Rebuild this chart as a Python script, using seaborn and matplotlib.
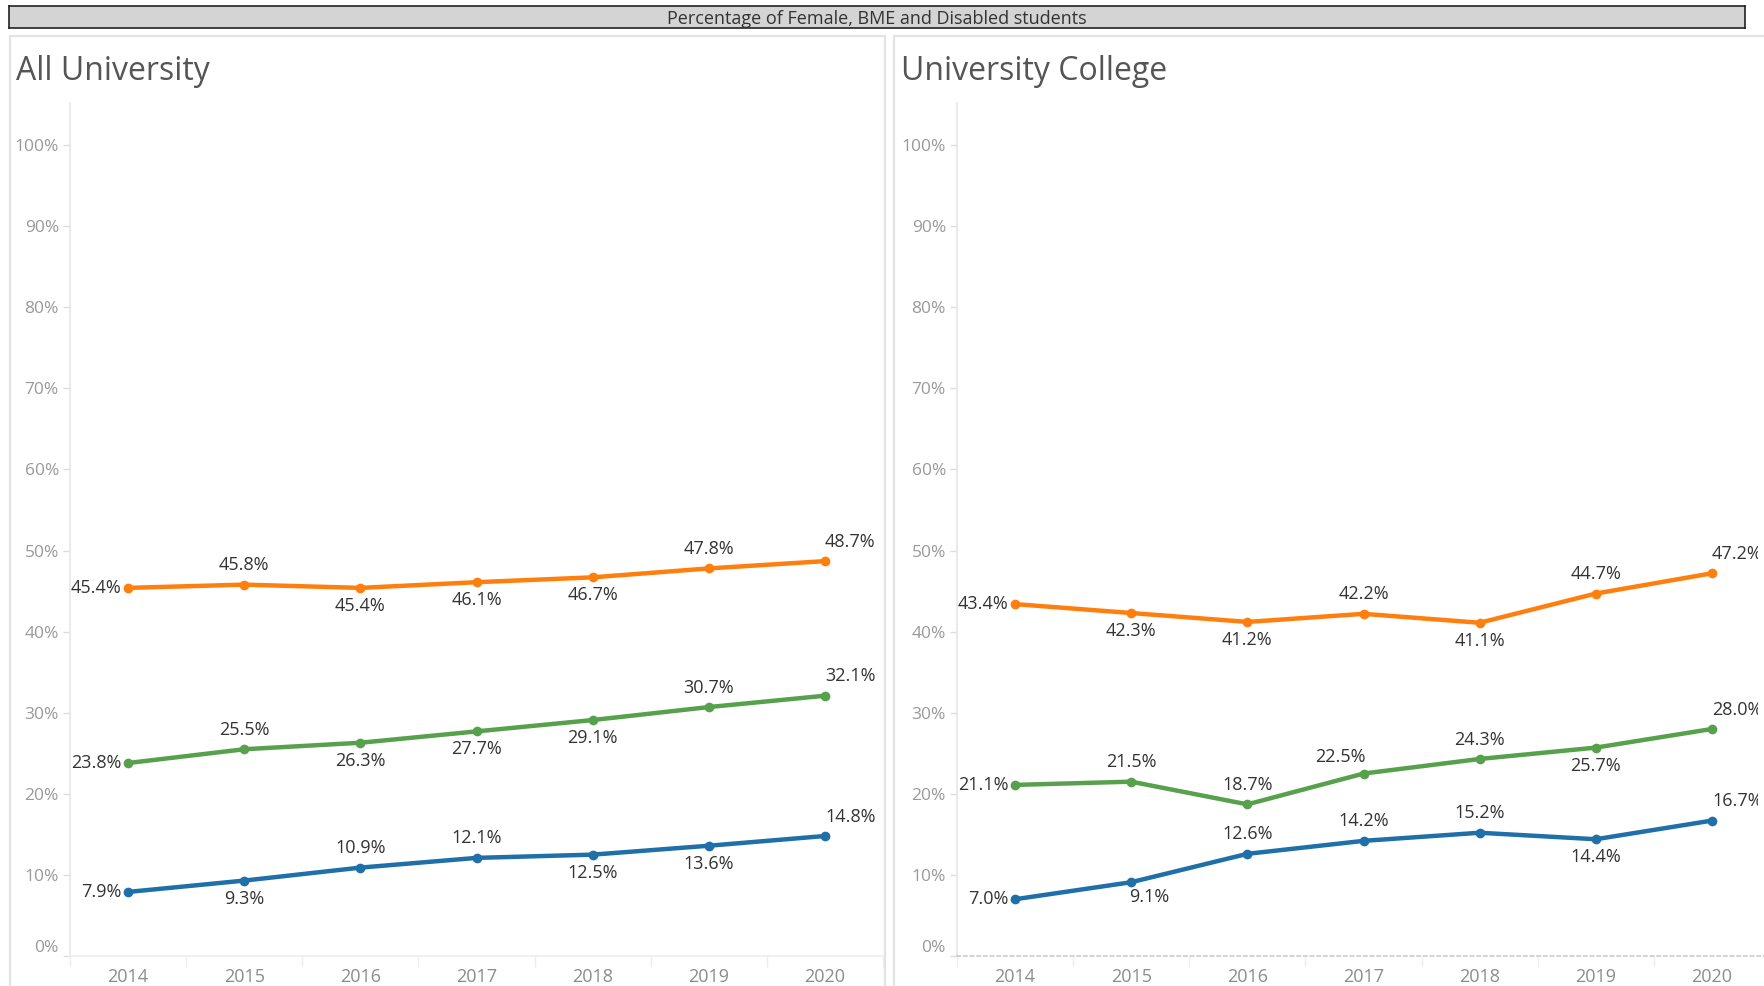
import pandas as pd
import seaborn as sns
import matplotlib.pyplot as plt
from matplotlib.patches import Rectangle
from matplotlib.transforms import Bbox, TransformedBbox

years = ["2014", "2015", "2016", "2017", "2018", "2019", "2020"]
groups = ["Female", "BME", "Disabled"]

all_female = [45.4, 45.8, 45.4, 46.1, 46.7, 47.8, 48.7]
all_bme = [23.8, 25.5, 26.3, 27.7, 29.1, 30.7, 32.1]
all_disabled = [7.9, 9.3, 10.9, 12.1, 12.5, 13.6, 14.8]

uc_female = [43.4, 42.3, 41.2, 42.2, 41.1, 44.7, 47.2]
uc_bme = [21.1, 21.5, 18.7, 22.5, 24.3, 25.7, 28.0]
uc_disabled = [7.0, 9.1, 12.6, 14.2, 15.2, 14.4, 16.7]

y_ticks = [0, 10, 20, 30, 40, 50, 60, 70, 80, 90, 100]

colors = {"Female": "#ff7f0e", "BME": "#57a14c", "Disabled": "#1f6fa9"}

# where each value label sits relative to its point
# L = left, A = above, B = below, E = end (above, left aligned), AL / BR shifted
all_place = {
    "Female": ["L", "A", "B", "B", "B", "A", "E"],
    "BME": ["L", "A", "B", "B", "B", "A", "E"],
    "Disabled": ["L", "B", "A", "A", "B", "B", "E"],
}
uc_place = {
    "Female": ["L", "B", "B", "A", "B", "A", "E"],
    "BME": ["L", "A", "A", "AL", "A", "B", "E"],
    "Disabled": ["L", "BR", "A", "A", "A", "B", "E"],
}

offsets = {
    "L": ((-5, 0), "right"),
    "A": ((0, 14), "center"),
    "B": ((0, -13), "center"),
    "E": ((0, 14), "left"),
    "AL": ((-17, 12), "center"),
    "BR": ((13, -11), "center"),
}


def make_frame(female, bme, disabled):
    rows = []
    for name, vals in zip(groups, [female, bme, disabled]):
        for yr, v in zip(years, vals):
            rows.append({"year": yr, "group": name, "value": v})
    return pd.DataFrame(rows)


W, H = 1764, 986
sns.set_theme(style="white")
plt.rcParams["font.family"] = ["Open Sans", "DejaVu Sans"]
fig = plt.figure(figsize=(W / 100, H / 100), dpi=100)


def px(x0, y0, w, h):
    return [x0 / W, 1 - (y0 + h) / H, w / W, h / H]


# title bar
bar = fig.add_axes(px(9, 6, 1736, 22))
bar.set_xticks([])
bar.set_yticks([])
bar.set_facecolor("#d4d4d4")
for s in bar.spines.values():
    s.set_color("#222222")
    s.set_linewidth(1.2)
bar.text(0.5, 0.42, "Percentage of Female, BME and Disabled students",
         ha="center", va="center", fontsize=13, color="#333333",
         transform=bar.transAxes)

# panel borders
for x0, x1 in [(10, 885), (894, 1800)]:
    fig.patches.append(Rectangle((x0 / W, -0.05), (x1 - x0) / W, (1 - 36 / H) + 0.05,
                                 transform=fig.transFigure, fill=False,
                                 edgecolor="#e3e3e3", linewidth=1.6))

# the right panel is cut a few pixels before the edge of the sheet
clip = TransformedBbox(Bbox([[0, 0], [1758 / W, 1]]), fig.transFigure)


def panel(ax, df, place, title, title_x, dotted):
    sns.lineplot(data=df, x="year", y="value", hue="group", palette=colors,
                 marker="o", markersize=7, markeredgewidth=0, linewidth=3.2,
                 legend=False, ax=ax, sort=False)
    ax.set_xlim(-0.5, 6.5)
    ax.set_ylim(0, 105.2)
    ax.set_yticks(y_ticks)
    ax.set_yticklabels([f"{t}%" for t in y_ticks])
    ax.set_xticks(range(len(years)))
    ax.set_xticklabels(years)
    ax.set_xticks([i + 0.5 for i in range(-1, 7)], minor=True)
    ax.set_xlabel("")
    ax.set_ylabel("")
    ax.tick_params(axis="y", length=5, width=1, color="#dddddd", pad=3,
                   labelsize=12.5, labelcolor="#999999", left=True)
    ax.tick_params(axis="x", which="major", length=0, pad=9,
                   labelsize=13, labelcolor="#8c8c8c")
    ax.tick_params(axis="x", which="minor", length=8, width=1,
                   color="#eeeeee", bottom=True)
    ax.get_yticklabels()[0].set_va("bottom")
    for side in ["top", "right"]:
        ax.spines[side].set_visible(False)
    ax.spines["left"].set_color("#e6e6e6")
    ax.spines["left"].set_linewidth(1.2)
    ax.spines["bottom"].set_color("#cccccc" if dotted else "#eeeeee")
    ax.spines["bottom"].set_linewidth(1.2)
    if dotted:
        ax.spines["bottom"].set_linestyle((0, (2, 2)))
    for name in groups:
        vals = df[df["group"] == name]["value"].tolist()
        for i, v in enumerate(vals):
            (dx, dy), ha = offsets[place[name][i]]
            t = ax.annotate(f"{v:.1f}%", xy=(i, v), xytext=(dx, dy),
                            textcoords="offset points", ha=ha, va="center",
                            fontsize=13, color="#333333", annotation_clip=False)
            t.set_clip_box(clip)
            t.set_clip_on(True)
    fig.text(title_x / W, 1 - 72 / H, title, ha="left", va="center",
             fontsize=23, color="#555555")


ax1 = fig.add_axes(px(70, 103, 813, 853))
panel(ax1, make_frame(all_female, all_bme, all_disabled), all_place,
      "All University", 16, False)

ax2 = fig.add_axes(px(957, 103, 813, 853))
panel(ax2, make_frame(uc_female, uc_bme, uc_disabled), uc_place,
      "University College", 901, True)

fig.savefig("out.png", dpi=100)
